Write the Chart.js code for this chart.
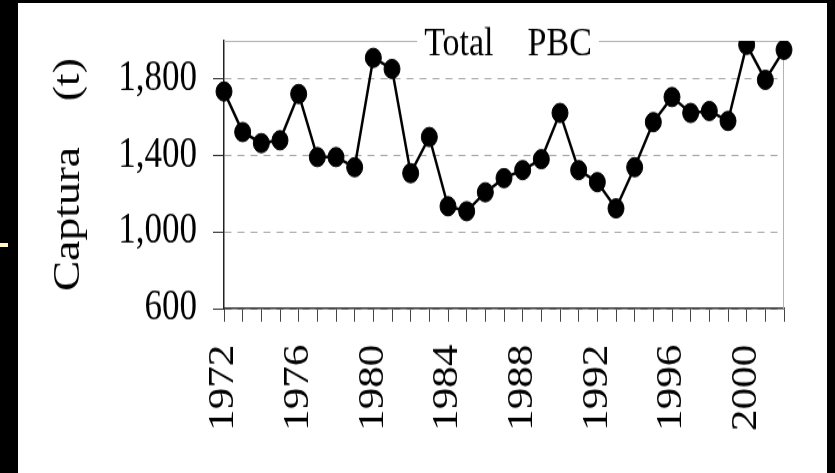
<!DOCTYPE html>
<html>
<head>
<meta charset="utf-8">
<script src="https://cdn.jsdelivr.net/npm/chart.js@4"></script>
<style>
    html, body { margin: 0; padding: 0; background: #000; }
    body { width: 835px; height: 473px; position: relative; overflow: hidden; }
    #sheet { position: absolute; left: 18px; top: 3px; width: 809px; height: 470px; background: #fff; }
    #mark { position: absolute; left: 0; top: 243px; width: 8px; height: 4px; background: #fff6c0; }
    #wrap { position: absolute; left: 0; top: 0; width: 835px; height: 394px; transform: scaleY(1.2005); transform-origin: 0 0; }
</style>
</head>
<body>
<div id="sheet"></div>
<div id="mark"></div>
<div id="wrap"><canvas id="chart" width="835" height="394"></canvas></div>
<script>
// data
var years = [1972, 1973, 1974, 1975, 1976, 1977, 1978, 1979, 1980, 1981,
    1982, 1983, 1984, 1985, 1986, 1987, 1988, 1989, 1990, 1991,
    1992, 1993, 1994, 1995, 1996, 1997, 1998, 1999, 2000, 2001, 2002];
var captura = [1735, 1523, 1465, 1480, 1722, 1392, 1392, 1339, 1911, 1853,
    1308, 1497, 1135, 1109, 1208, 1282, 1324, 1381, 1623, 1324,
    1261, 1124, 1339, 1575, 1706, 1623, 1633, 1581, 1979, 1796, 1953];
var yearLabels = [1972, 1976, 1980, 1984, 1988, 1992, 1996, 2000];
var yTicks = [600, 1000, 1400, 1800];
var chartTitle = 'Total    PBC';
var yTitle = 'Captura    (t)';

var serif = '"Liberation Serif", "Times New Roman", serif';

// gray frame on top and right of the plot
var framePlugin = {
    id: 'frame',
    beforeDatasetsDraw: function(chart) {
        var a = chart.chartArea;
        var ctx = chart.ctx;
        ctx.save();
        ctx.strokeStyle = '#b4b4b4';
        ctx.lineWidth = 1;
        ctx.beginPath();
        ctx.moveTo(a.left, a.top + 0.5);
        ctx.lineTo(a.right - 0.5, a.top + 0.5);
        ctx.lineTo(a.right - 0.5, a.bottom);
        ctx.stroke();
        ctx.restore();
    }
};

// title sits on the top frame line, with white behind it
var titlePlugin = {
    id: 'innerTitle',
    afterDraw: function(chart) {
        var a = chart.chartArea;
        var ctx = chart.ctx;
        ctx.save();
        ctx.font = '34px ' + serif;
        var w = ctx.measureText(chartTitle).width;
        var x = (a.left + a.right) / 2 + 4 - w / 2;
        ctx.fillStyle = '#fff';
        ctx.fillRect(x - 7, a.top - 3, w + 14, 8);
        ctx.fillStyle = '#000';
        ctx.textBaseline = 'alphabetic';
        ctx.fillText(chartTitle, x, 45.5);
        ctx.restore();
    }
};

new Chart(document.getElementById('chart'), {
    type: 'line',
    data: {
        labels: years,
        datasets: [{
            data: captura,
            borderColor: '#000',
            borderWidth: 2.5,
            tension: 0,
            pointRadius: 8,
            pointBackgroundColor: '#000',
            pointBorderColor: '#000',
            pointBorderWidth: 1
        }]
    },
    options: {
        responsive: false,
        animation: false,
        devicePixelRatio: 1,
        layout: {
            padding: { top: 34, right: 51, left: 0, bottom: 0 }
        },
        plugins: {
            legend: { display: false },
            tooltip: { enabled: false }
        },
        scales: {
            x: {
                type: 'category',
                offset: false,
                grid: {
                    drawOnChartArea: false,
                    tickLength: 11,
                    tickColor: '#444',
                    offset: false
                },
                border: { color: '#333', width: 1.5 },
                ticks: {
                    autoSkip: false,
                    minRotation: 90,
                    maxRotation: 90,
                    padding: 19,
                    color: '#000',
                    font: { family: serif, size: 36 },
                    callback: function(value, index) {
                        return yearLabels.indexOf(years[index]) >= 0 ? String(years[index]) : '';
                    }
                },
                afterFit: function(scale) {
                    scale.height = 137;
                    scale.paddingLeft = 0;
                    scale.paddingRight = 0;
                }
            },
            y: {
                min: 600,
                max: 2000,
                afterBuildTicks: function(axis) {
                    axis.ticks = yTicks.map(function(v) { return { value: v }; });
                },
                grid: {
                    color: '#a8a8a8',
                    tickColor: '#333',
                    tickLength: 11,
                    tickBorderDash: []
                },
                border: { color: '#222', width: 1.5, dash: [7, 6] },
                ticks: {
                    padding: 16,
                    color: '#000',
                    font: { family: serif, size: 35 },
                    callback: function(value) {
                        return value.toLocaleString('en-US');
                    }
                },
                title: {
                    display: true,
                    text: yTitle,
                    color: '#000',
                    font: { family: serif, size: 38 },
                    padding: { top: 46, bottom: 0 }
                },
                afterFit: function(scale) {
                    scale.width = 224;
                    scale.paddingTop = 0;
                    scale.paddingBottom = 0;
                }
            }
        }
    },
    plugins: [framePlugin, titlePlugin]
});
</script>
</body>
</html>
